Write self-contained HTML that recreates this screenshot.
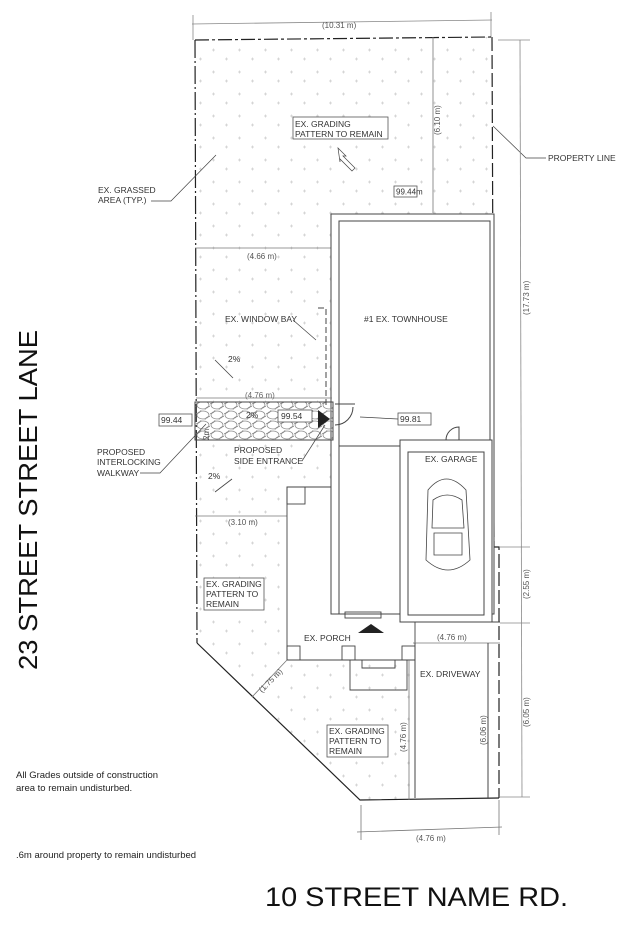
<!DOCTYPE html>
<html><head><meta charset="utf-8"><style>
html,body{margin:0;padding:0;background:#fff;}
svg{display:block;font-family:"Liberation Sans",sans-serif;}
.t{font-size:8.5px;fill:#333;}
.d{font-size:8px;fill:#555;}
</style></head><body>
<svg width="630" height="932" viewBox="0 0 630 932" xmlns="http://www.w3.org/2000/svg">
<defs>
<pattern id="g" width="26" height="22" patternUnits="userSpaceOnUse">
<path d="M4 6h3M5.5 4.5v3M17 15h3M18.5 13.5v3" stroke="#ccc" stroke-width="0.7"/>
</pattern>
<pattern id="s" width="14" height="10" patternUnits="userSpaceOnUse">
<ellipse cx="7" cy="5" rx="6" ry="4" fill="none" stroke="#888" stroke-width="0.7"/>
<ellipse cx="0" cy="0" rx="5" ry="3.5" fill="none" stroke="#888" stroke-width="0.7"/>
<ellipse cx="14" cy="10" rx="5" ry="3.5" fill="none" stroke="#888" stroke-width="0.7"/>
</pattern>
</defs>
<polygon points="195,40 492,37 492,214 331,214 331,402 195,402" fill="url(#g)"/>
<polygon points="195,440 333,440 333,487 287,487 287,660 410,660 410,800 360,800 197,643" fill="url(#g)"/>
<line x1="192" y1="24" x2="492" y2="20" stroke="#888" stroke-width="0.8"/>
<line x1="193" y1="15" x2="193" y2="40" stroke="#888" stroke-width="0.8"/>
<line x1="491" y1="12" x2="491" y2="37" stroke="#888" stroke-width="0.8"/>
<text x="322" y="28" class="d">(10.31 m)</text>
<g stroke="#222" stroke-width="1.2" fill="none">
<path d="M195 40 L492 37" stroke-dasharray="14 3 3 3"/>
<path d="M195 40 L197 643" stroke-dasharray="18 3 2 3"/>
<path d="M492 37 L494 547 L499 547 L499 798" stroke-dasharray="14 4"/>
<path d="M197 643 L360 800 L499 798" />
</g>
<line x1="433" y1="37" x2="433" y2="213" stroke="#777" stroke-width="0.8"/>
<text transform="translate(440,135) rotate(-90)" class="d">(6.10 m)</text>
<line x1="195" y1="248" x2="331" y2="248" stroke="#777" stroke-width="0.8"/>
<text x="247" y="259" class="d">(4.66 m)</text>
<rect x="394" y="186" width="23" height="11" fill="#fff" stroke="#555" stroke-width="0.8"/>
<text x="396" y="194.5" class="t" style="font-size:8px">99.44m</text>
<g stroke="#444" stroke-width="1" fill="#fff">
<rect x="331" y="214" width="163" height="400"/>
<rect x="339" y="221" width="151" height="225"/>
<rect x="339" y="446" width="61" height="168"/>
<rect x="400" y="440" width="92" height="182"/>
<rect x="408" y="452" width="76" height="163"/>
</g>
<path d="M318 308 h8 v100" stroke="#444" stroke-dasharray="6 3" fill="none"/>
<text x="364" y="322" class="t">#1 EX. TOWNHOUSE</text>
<text x="425" y="462" class="t">EX. GARAGE</text>
<g stroke="#444" fill="none" stroke-width="0.8">
<path d="M428 490 Q446 468 466 490 L470 560 Q448 580 426 560 Z"/>
<path d="M433 500 Q447 490 462 500 L464 528 L432 528 Z"/>
<path d="M434 533 L462 533 L462 555 L434 555 Z"/>
</g>
<path d="M446 440 a13 13 0 0 1 13 -13 v13" stroke="#444" fill="none"/>
<rect x="195" y="402" width="138" height="38" fill="url(#s)" stroke="#444"/>
<path d="M318 410 L330 419 L318 428 Z" fill="#222"/>
<rect x="278" y="410" width="34" height="12" fill="#fff" stroke="#555" stroke-width="0.8"/>
<text x="281" y="419" class="t">99.54</text>
<text x="246" y="418" class="t">2%</text>
<rect x="159" y="414" width="33" height="12" fill="#fff" stroke="#555" stroke-width="0.8"/>
<text x="161" y="423" class="t">99.44</text>
<rect x="398" y="413" width="33" height="12" fill="#fff" stroke="#555" stroke-width="0.8"/>
<text x="400" y="422" class="t">99.81</text>
<line x1="398" y1="419" x2="360" y2="417" stroke="#444" stroke-width="0.7"/>
<path d="M335 404 h20 M335 425 a18 18 0 0 0 18 -18" stroke="#444" fill="none"/>
<line x1="196" y1="398" x2="332" y2="398" stroke="#777" stroke-width="0.8"/>
<text x="245" y="398" class="d" style="fill:#666">(4.76 m)</text>
<text transform="translate(209,440) rotate(-90)" class="d">2m</text>
<text x="225" y="322" class="t">EX. WINDOW BAY</text>
<line x1="293" y1="320" x2="316" y2="340" stroke="#444" stroke-width="0.7"/>
<text x="228" y="362" class="t">2%</text>
<line x1="215" y1="360" x2="233" y2="378" stroke="#444" stroke-width="0.8"/>
<text x="208" y="479" class="t">2%</text>
<line x1="232" y1="479" x2="215" y2="492" stroke="#444" stroke-width="0.8"/>
<text x="234" y="453" class="t">PROPOSED</text>
<text x="234" y="464" class="t">SIDE ENTRANCE</text>
<line x1="302" y1="461" x2="325" y2="425" stroke="#444" stroke-width="0.7"/>
<text x="98" y="193" class="t">EX. GRASSED</text>
<text x="98" y="203" class="t">AREA (TYP.)</text>
<path d="M151 201 h20 L216 155" stroke="#444" fill="none" stroke-width="0.7"/>
<text x="97" y="455" class="t">PROPOSED</text>
<text x="97" y="465" class="t">INTERLOCKING</text>
<text x="97" y="476" class="t">WALKWAY</text>
<path d="M140 473 h20 L206 424" stroke="#444" fill="none" stroke-width="0.7"/>
<text x="548" y="161" class="t">PROPERTY LINE</text>
<path d="M546 158 h-20 L493 126" stroke="#444" fill="none" stroke-width="0.7"/>
<rect x="293" y="117" width="95" height="22" fill="#fff" stroke="#555" stroke-width="0.8"/>
<text x="295" y="127" class="t">EX. GRADING</text>
<text x="295" y="137" class="t">PATTERN TO REMAIN</text>
<path d="M338 148 l8 8 l-3 0 l12 12 l-3 3 l-12 -12 l0 3 z" fill="#fff" stroke="#444" stroke-width="0.7"/>
<line x1="195" y1="516" x2="287" y2="516" stroke="#777" stroke-width="0.8"/>
<text x="228" y="525" class="d">(3.10 m)</text>
<rect x="204" y="578" width="60" height="32" fill="#fff" stroke="#555" stroke-width="0.8"/>
<text x="206" y="587" class="t">EX. GRADING</text>
<text x="206" y="597" class="t">PATTERN TO</text>
<text x="206" y="607" class="t">REMAIN</text>
<g stroke="#444" fill="none" stroke-width="0.9">
<polyline points="331,487 287,487 287,660 415,660 415,622"/>
<rect x="287" y="487" width="18" height="17"/>
<rect x="287" y="646" width="13" height="14"/>
<rect x="342" y="646" width="13" height="14"/>
<rect x="402" y="646" width="13" height="14"/>
<polyline points="350,660 350,690 407,690 407,660"/>
<polyline points="362,660 362,668 395,668 395,660"/>
<rect x="345" y="612" width="36" height="6"/>
</g>
<path d="M358 633 L371 624 L384 633 Z" fill="#222"/>
<text x="304" y="641" class="t">EX. PORCH</text>
<line x1="412" y1="622" x2="500" y2="622" stroke="#444"/>
<line x1="413" y1="643" x2="500" y2="643" stroke="#777" stroke-width="0.8"/>
<text x="437" y="640" class="d">(4.76 m)</text>
<line x1="415" y1="643" x2="415" y2="798" stroke="#444"/>
<line x1="488" y1="643" x2="488" y2="798" stroke="#444"/>
<text x="420" y="677" class="t">EX. DRIVEWAY</text>
<text transform="translate(486,745) rotate(-90)" class="d">(6.06 m)</text>
<line x1="409" y1="660" x2="409" y2="800" stroke="#777" stroke-width="0.8"/>
<text transform="translate(406,752) rotate(-90)" class="d">(4.76 m)</text>
<rect x="327" y="725" width="61" height="32" fill="#fff" stroke="#555" stroke-width="0.8"/>
<text x="329" y="734" class="t">EX. GRADING</text>
<text x="329" y="744" class="t">PATTERN TO</text>
<text x="329" y="754" class="t">REMAIN</text>
<line x1="252" y1="697" x2="287" y2="660" stroke="#777" stroke-width="0.8"/>
<text transform="translate(262,693) rotate(-45)" class="d">(1.75 m)</text>
<line x1="357" y1="832" x2="502" y2="827" stroke="#777" stroke-width="0.8"/>
<line x1="361" y1="805" x2="361" y2="840" stroke="#777" stroke-width="0.8"/>
<line x1="499" y1="800" x2="499" y2="835" stroke="#777" stroke-width="0.8"/>
<text x="416" y="841" class="d">(4.76 m)</text>
<line x1="520" y1="40" x2="522" y2="797" stroke="#888" stroke-width="0.8"/>
<line x1="498" y1="40" x2="530" y2="40" stroke="#888" stroke-width="0.8"/>
<line x1="500" y1="547" x2="530" y2="547" stroke="#888" stroke-width="0.8"/>
<line x1="500" y1="623" x2="530" y2="623" stroke="#888" stroke-width="0.8"/>
<line x1="500" y1="797" x2="530" y2="797" stroke="#888" stroke-width="0.8"/>
<text transform="translate(529,315) rotate(-90)" class="d">(17.73 m)</text>
<text transform="translate(529,599) rotate(-90)" class="d">(2.55 m)</text>
<text transform="translate(529,727) rotate(-90)" class="d">(6.05 m)</text>
<text x="16" y="778" style="font-size:9.5px;fill:#222">All Grades outside of construction</text>
<text x="16" y="791" style="font-size:9.5px;fill:#222">area to remain undisturbed.</text>
<text x="16" y="858" style="font-size:9.5px;fill:#222">.6m around property to remain undisturbed</text>
<text transform="translate(37,670) rotate(-90)" style="font-size:26px;fill:#111" textLength="340" lengthAdjust="spacingAndGlyphs">23 STREET STREET LANE</text>
<text x="265" y="906" style="font-size:27px;fill:#111" textLength="303" lengthAdjust="spacingAndGlyphs">10 STREET NAME RD.</text>
</svg>
</body></html>
